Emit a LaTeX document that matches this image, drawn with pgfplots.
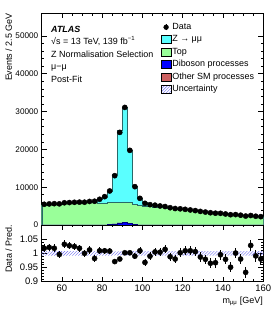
\documentclass[border=0pt]{standalone}
\usepackage{fontspec}
\setmainfont{Liberation Sans}
\usepackage{pgfplots}
\pgfplotsset{compat=1.18}
\usepackage{pgfplotstable}
\usetikzlibrary{patterns}

\definecolor{zcol}{RGB}{90,255,255}
\definecolor{zline}{RGB}{40,105,105}
\definecolor{topcol}{RGB}{153,255,153}
\definecolor{dibcol}{RGB}{0,0,255}
\definecolor{othcol}{RGB}{205,97,97}
\definecolor{unccol}{RGB}{110,110,240}

\pgfplotstableread{
lo z top db oth
50.0 40 5315 15 10
52.5 45 5390 15 10
55.0 50 5465 15 10
57.5 55 5540 15 10
60.0 60 5615 15 10
62.5 70 5685 15 10
65.0 80 5755 15 10
67.5 100 5815 15 10
70.0 130 5875 15 10
72.5 220 5905 15 10
75.0 500 5875 15 10
77.5 890 5825 15 10
80.0 1580 5825 15 10
82.5 3030 5810 80 10
85.0 7460 5670 300 10
87.5 18920 5520 550 10
90.0 24890 5490 650 10
92.5 13760 5490 450 10
95.0 4690 5460 80 10
97.5 1790 5175 15 10
100.0 920 4975 15 10
102.5 530 4875 15 10
105.0 397 4795 15 10
107.5 273 4715 15 10
110.0 196 4595 15 10
112.5 127 4475 15 10
115.0 66 4355 15 10
117.5 41 4205 15 10
120.0 30 4049 15 10
122.5 30 3888 15 10
125.0 30 3733 15 10
127.5 30 3585 15 10
130.0 30 3442 15 10
132.5 30 3305 15 10
135.0 30 3173 15 10
137.5 30 3047 15 10
140.0 30 2925 15 10
142.5 30 2808 15 10
145.0 30 2696 15 10
147.5 30 2588 15 10
150.0 30 2484 15 10
152.5 30 2385 15 10
155.0 30 2289 15 10
157.5 30 2197 15 10
160.0 30 2197 15 10
}\hist
\pgfplotstablecreatecol[create col/expr={\thisrow{db}+\thisrow{oth}}]{c2}\hist
\pgfplotstablecreatecol[create col/expr={\thisrow{c2}+\thisrow{top}}]{c3}\hist
\pgfplotstablecreatecol[create col/expr={\thisrow{c3}+\thisrow{z}}]{c4}\hist

\pgfplotstableread{
x d r e
51.25 5477 1.018 0.0137
53.75 5575 1.021 0.0137
56.25 5640 1.018 0.0136
58.75 5598 0.996 0.0133
61.25 5882 1.032 0.0135
63.75 5936 1.027 0.0133
66.25 6001 1.024 0.0132
68.75 6047 1.018 0.0131
71.25 6030 1.000 0.0129
73.75 6224 1.012 0.0128
76.25 6285 0.982 0.0124
78.75 6801 1.009 0.0122
81.25 7497 1.009 0.0116
83.75 9001 1.008 0.0106
86.25 13050 0.971 0.0085
88.75 24500 0.980 0.0063
91.25 31102 1.002 0.0057
93.75 19749 1.002 0.0071
96.25 10138 0.990 0.0098
98.75 7053 1.009 0.0120
101.25 5731 0.968 0.0128
103.75 5376 0.990 0.0135
106.25 5243 1.005 0.0139
108.75 5033 1.004 0.0142
111.25 4883 1.014 0.0145
113.75 4571 0.988 0.0146
116.25 4357 0.980 0.0148
118.75 4280 1.002 0.0153
121.25 4141 1.009 0.0157
123.75 3978 1.009 0.0160
126.25 3811 1.006 0.0163
128.75 3593 0.987 0.0165
131.25 3424 0.979 0.0167
133.75 3242 0.965 0.0169
136.25 3122 0.967 0.0173
138.75 3086 0.995 0.0179
141.25 2917 0.979 0.0181
143.75 2723 0.951 0.0182
146.25 2754 1.001 0.0191
148.75 2590 0.980 0.0193
151.25 2369 0.933 0.0192
153.75 2508 1.028 0.0205
156.25 2323 0.991 0.0206
158.75 2207 0.980 0.0209
}\data

\pgfplotsset{
  atlas/.style={
    scale only axis,
    xmin=50, xmax=160,
    axis line style={line width=0.7bp},
    major tick style={line width=0.6bp, black},
    minor tick style={line width=0.6bp, black},
    major tick length=5bp, minor tick length=2.5bp,
    tick align=inside,
    xtick={60,80,100,120,140,160}, minor x tick num=3,
  }
}

\begin{document}
\begin{tikzpicture}[x=1bp,y=1bp]
\path[use as bounding box] (0,0) rectangle (278,313);

\begin{axis}[atlas,
  at={(41.7bp,88bp)}, anchor=south west,
  width=221.6bp, height=211.7bp,
  ymin=0, ymax=56,
  y filter/.expression={y/1000},
  ytick={0,10,20,30,40,50},
  yticklabels={0,10000,20000,30000,40000,50000},
  minor y tick num=4,
  xticklabels={},
  yticklabel style={font=\fontsize{8.2}{9.5}\selectfont, text=black},
  legend style={at={(axis description cs:0.537,0.960)}, anchor=north west, draw=none, fill=none,
    font=\fontsize{9}{10}\selectfont, row sep=1.9bp, inner sep=0pt,
    nodes={inner sep=1bp, text height=6.5bp, text depth=2bp}},
  legend cell align=left,
]
\addplot[fill=zcol, draw=zline, line width=0.5bp, const plot mark left, forget plot] table[x=lo,y=c4]{\hist} \closedcycle;
\addplot[fill=topcol, draw=zline, line width=0.4bp, const plot mark left, forget plot] table[x=lo,y=c3]{\hist} \closedcycle;
\addplot[fill=othcol, draw=othcol!60!black, line width=0.4bp, const plot mark left, forget plot] table[x=lo,y=c2]{\hist} \closedcycle;
\addplot[fill=dibcol, draw=dibcol!50!black, line width=0.5bp, const plot mark left, forget plot] table[x=lo,y=db]{\hist} \closedcycle;
\addplot[only marks, mark=*, mark size=2.6bp, black, forget plot] table[x=x,y=d]{\data};

\addlegendimage{legend image code/.code={\draw[black,line width=0.7bp] (5bp,-3.2bp)--(5bp,3.2bp); \fill[black] (5bp,0bp) circle (2.4bp);}}
\addlegendentry{Data}
\addlegendimage{legend image code/.code={\draw[fill=zcol,draw=black,line width=0.4bp] (0bp,-4bp) rectangle (10bp,4bp);}}
\addlegendentry{Z → μμ}
\addlegendimage{legend image code/.code={\draw[fill=topcol,draw=black,line width=0.4bp] (0bp,-4bp) rectangle (10bp,4bp);}}
\addlegendentry{Top}
\addlegendimage{legend image code/.code={\draw[fill=dibcol,draw=black,line width=0.4bp] (0bp,-4bp) rectangle (10bp,4bp);}}
\addlegendentry{Diboson processes}
\addlegendimage{legend image code/.code={\draw[fill=othcol,draw=black,line width=0.4bp] (0bp,-4bp) rectangle (10bp,4bp);}}
\addlegendentry{Other SM processes}
\addlegendimage{legend image code/.code={\fill[pattern=north east lines, pattern color=unccol] (0bp,-4bp) rectangle (10bp,4bp);}}
\addlegendentry{Uncertainty}
\end{axis}

\begin{axis}[atlas,
  at={(41.7bp,31.3bp)}, anchor=south west,
  width=221.6bp, height=56.7bp,
  ymin=0.9, ymax=1.1,
  ytick={0.9,0.95,1,1.05},
  yticklabels={0.9,0.95,1,1.05},
  minor y tick num=4,
  yticklabel style={font=\fontsize{9.5}{10}\selectfont},
  xticklabels={60,80,100,120,140,160},
  xticklabel style={font=\fontsize{9.5}{10}\selectfont},
]
\addplot[pattern=north east lines, pattern color=unccol, draw=none, forget plot]
  coordinates {(50,1.008) (85,1.008) (85,1.007) (95,1.007) (95,1.008) (160,1.008)
               (160,0.992) (95,0.992) (95,0.993) (85,0.993) (85,0.992) (50,0.992)} -- cycle;
\addplot[only marks, mark=*, mark size=2.6bp, black, forget plot,
  error bars/.cd, y dir=both, y explicit, error mark=none,
  error bar style={line width=0.8bp, black}]
  table[x=x, y=r, y error=e]{\data};
\end{axis}

\begin{scope}[every node/.style={inner sep=0pt, font=\fontsize{9}{10.8}\selectfont}]
\node[anchor=base west] at (51,280.8) {\textbf{\textit{ATLAS}}};
\node[anchor=base west] at (51,268.6) {√s = 13 TeV, 139 fb\textsuperscript{−1}};
\node[anchor=base west] at (51,256.0) {Z Normalisation Selection};
\node[anchor=base west] at (51,243.5) {μ−μ};
\node[anchor=base west] at (51,231.0) {Post-Fit};
\node[anchor=east, rotate=90] at (8.7,300) {Events / 2.5 GeV};
\node[anchor=center, rotate=90] at (8.7,64) {Data / Pred.};
\node[anchor=base east] at (263,9.5) {m\textsubscript{μμ} [GeV]};
\end{scope}
\end{tikzpicture}
\end{document}
